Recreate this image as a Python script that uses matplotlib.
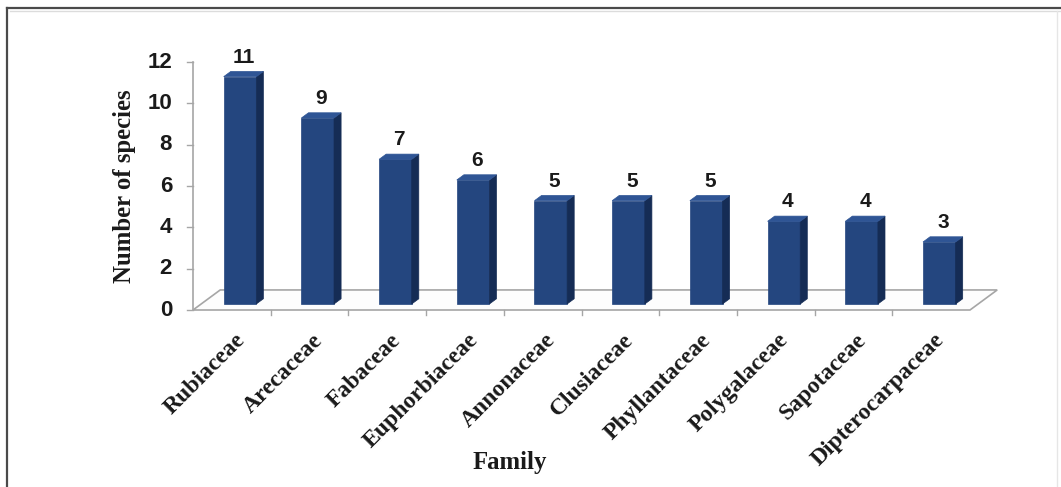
import matplotlib
matplotlib.use("Agg")
import matplotlib.pyplot as plt
from matplotlib.patches import Polygon
from matplotlib.lines import Line2D

families = ["Rubiaceae", "Arecaceae", "Fabaceae", "Euphorbiaceae", "Annonaceae",
            "Clusiaceae", "Phyllantaceae", "Polygalaceae", "Sapotaceae",
            "Dipterocarpaceae"]
species = [11, 9, 7, 6, 5, 5, 5, 4, 4, 3]
y_ticks = [0, 2, 4, 6, 8, 10, 12]

W, H = 1061, 487
fig = plt.figure(figsize=(W / 100, H / 100), dpi=100)
fig.patch.set_facecolor("white")

# axes placed so that the front floor edge and value axis land where wanted
x0_px, x1_px, y0_px, y1_px = 193, 970, 310, 62
ax = fig.add_axes([x0_px / W, 1 - y0_px / H, (x1_px - x0_px) / W, (y0_px - y1_px) / H])
ax.set_xlim(0, len(families))
ax.set_ylim(0, 12)
ax.axis("off")

# depth direction of the pseudo-3D scene (category units, value units)
DX, DY = 0.35, 0.97


def proj(x, y, d):
    return (x + d * DX, y + d * DY)


edge = "#a6a6a6"
# floor
floor = Polygon([proj(0, 0, 0), proj(10, 0, 0), proj(10, 0, 1), proj(0, 0, 1)],
                closed=True, facecolor="#fdfdfd", edgecolor=edge, lw=1.2,
                clip_on=False, zorder=1)
ax.add_patch(floor)

# value axis and ticks
ax.plot([0, 0], [0, 12], color=edge, lw=1.2, clip_on=False, zorder=2)
tick_len = 0.08
for t in y_ticks:
    ax.plot([-tick_len, 0], [t, t], color=edge, lw=1.0, clip_on=False, zorder=2)
    ax.text(-0.27, t, str(t), ha="right", va="center", fontsize=16,
            fontweight="bold", family="Liberation Sans", color="#1a1a1a")

# category ticks along the front floor edge
for k in range(1, len(families)):
    ax.plot([k, k], [0, -0.25], color=edge, lw=1.0, clip_on=False, zorder=2)

front_c, side_c, top_c = "#24467f", "#152c55", "#2f5595"
d0, d1 = 0.30, 0.56
half = 0.21
for i, (name, v) in enumerate(zip(families, species)):
    xa, xb = i + 0.5 - half, i + 0.5 + half
    front = Polygon([proj(xa, 0, d0), proj(xb, 0, d0), proj(xb, v, d0), proj(xa, v, d0)],
                    closed=True, facecolor=front_c, edgecolor=front_c, lw=0.5,
                    clip_on=False, zorder=3)
    side = Polygon([proj(xb, 0, d0), proj(xb, 0, d1), proj(xb, v, d1), proj(xb, v, d0)],
                   closed=True, facecolor=side_c, edgecolor=side_c, lw=0.5,
                   clip_on=False, zorder=3)
    top = Polygon([proj(xa, v, d0), proj(xb, v, d0), proj(xb, v, d1), proj(xa, v, d1)],
                  closed=True, facecolor=top_c, edgecolor=top_c, lw=0.5,
                  clip_on=False, zorder=3)
    for p in (front, side, top):
        ax.add_patch(p)
    lx, ly = proj(i + 0.5, v, (d0 + d1) / 2)
    ax.text(lx, ly + 0.35, str(v), ha="center", va="bottom", fontsize=15,
            fontweight="bold", family="Liberation Sans", color="#1a1a1a",
            clip_on=False)
    ax.text(i + 0.53, -0.95, name, rotation=45, ha="right", va="top",
            rotation_mode="anchor", fontsize=17, fontweight="bold",
            family="Liberation Serif", color="#1a1a1a")

ax.text(-0.88, 6, "Number of species", rotation=90, ha="center", va="center",
        fontsize=17.8, fontweight="bold", family="Liberation Serif", color="#1a1a1a")
fig.text(510 / W, 1 - 463 / H, "Family", ha="center", va="center",
         fontsize=17.8, fontweight="bold", family="Liberation Serif", color="#1a1a1a")

# outer frame (top and left edges)
fig.add_artist(Line2D([7 / W, 1], [1 - 8 / H, 1 - 8 / H], color="#4a4a4a", lw=1.6))
fig.add_artist(Line2D([7 / W, 7 / W], [0, 1 - 8 / H], color="#4a4a4a", lw=1.6))
fig.add_artist(Line2D([10 / W, 1], [1 - 11 / H, 1 - 11 / H], color="#dcdcdc", lw=1.0))
fig.add_artist(Line2D([1057 / W, 1057 / W], [0, 1 - 11 / H], color="#e6e6e6", lw=1.0))

fig.savefig("out.png", dpi=100, facecolor="white")
